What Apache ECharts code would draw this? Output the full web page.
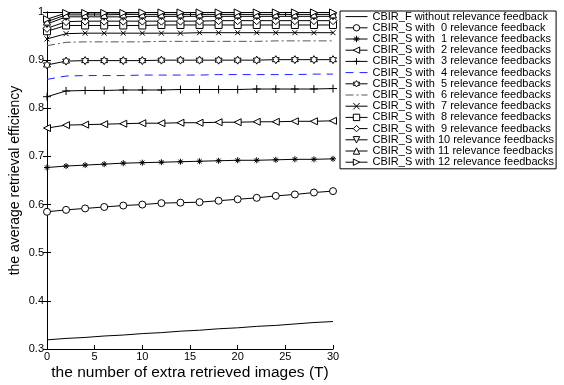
<!DOCTYPE html>
<html>
<head>
<meta charset="utf-8">
<script src="https://cdn.jsdelivr.net/npm/echarts@6/dist/echarts.min.js"></script>
<style>html,body{margin:0;padding:0;background:#fff}#c{width:564px;height:385px}</style>
</head>
<body>
<div id="c"></div>
<script>
const xValues = [0,2,4,6,8,10,12,14,16,18,20,22,24,26,28,30];
const xTicks = [0,5,10,15,20,25,30];
const yTicks = [0.3,0.4,0.5,0.6,0.7,0.8,0.9,1];

const seriesNames = [
  'CBIR_F without relevance feedback',
  'CBIR_S with  0 relevance feedback',
  'CBIR_S with  1 relevance feedbacks',
  'CBIR_S with  2 relevance feedbacks',
  'CBIR_S with  3 relevance feedbacks',
  'CBIR_S with  4 relevance feedbacks',
  'CBIR_S with  5 relevance feedbacks',
  'CBIR_S with  6 relevance feedbacks',
  'CBIR_S with  7 relevance feedbacks',
  'CBIR_S with  8 relevance feedbacks',
  'CBIR_S with  9 relevance feedbacks',
  'CBIR_S with 10 relevance feedbacks',
  'CBIR_S with 11 relevance feedbacks',
  'CBIR_S with 12 relevance feedbacks'
];

const cbirF = [0.319,0.322,0.324,0.327,0.329,0.332,0.334,0.337,0.339,0.342,0.344,0.347,0.349,0.352,0.355,0.357];
const fb0  = [0.585,0.589,0.592,0.595,0.598,0.600,0.603,0.604,0.605,0.608,0.611,0.614,0.618,0.621,0.625,0.628];
const fb1  = [0.677,0.680,0.682,0.684,0.686,0.687,0.688,0.689,0.690,0.691,0.692,0.692,0.693,0.694,0.694,0.695];
const fb2  = [0.759,0.765,0.766,0.767,0.768,0.769,0.769,0.770,0.770,0.771,0.771,0.772,0.772,0.773,0.773,0.774];
const fb3  = [0.824,0.836,0.837,0.837,0.838,0.838,0.838,0.839,0.839,0.839,0.839,0.840,0.840,0.840,0.840,0.841];
const fb4  = [0.860,0.867,0.868,0.868,0.868,0.869,0.869,0.869,0.869,0.870,0.870,0.870,0.870,0.870,0.871,0.871];
const fb5  = [0.890,0.898,0.899,0.899,0.899,0.899,0.900,0.900,0.900,0.900,0.900,0.900,0.901,0.901,0.901,0.901];
const fb6  = [0.930,0.937,0.938,0.938,0.938,0.938,0.939,0.939,0.939,0.939,0.939,0.939,0.940,0.940,0.940,0.940];
const fb7  = [0.944,0.955,0.956,0.956,0.956,0.956,0.956,0.956,0.957,0.957,0.957,0.957,0.957,0.957,0.957,0.957];
const fb8  = [0.960,0.972,0.972,0.972,0.972,0.972,0.973,0.973,0.973,0.973,0.973,0.973,0.973,0.973,0.973,0.973];
const fb9  = [0.966,0.980,0.981,0.981,0.981,0.981,0.981,0.981,0.981,0.982,0.982,0.982,0.982,0.982,0.982,0.982];
const fb10 = [0.975,0.990,0.990,0.990,0.990,0.991,0.991,0.991,0.991,0.991,0.991,0.991,0.991,0.991,0.991,0.991];
const fb11 = [0.980,0.994,0.994,0.994,0.995,0.995,0.995,0.995,0.995,0.995,0.995,0.995,0.995,0.995,0.995,0.995];
const fb12 = [0.985,0.998,0.998,0.998,0.998,0.999,0.999,0.999,0.999,0.999,0.999,0.999,0.999,0.999,0.999,0.999];

const allValues = [cbirF,fb0,fb1,fb2,fb3,fb4,fb5,fb6,fb7,fb8,fb9,fb10,fb11,fb12];

const hexagram = 'path://M5 0L6.443 2.5L9.33 2.5L7.887 5L9.33 7.5L6.443 7.5L5 10L3.557 7.5L0.67 7.5L2.113 5L0.67 2.5L3.557 2.5Z';
const symbols = [
  'none',
  'circle',
  'path://M5 0L5 10M0 5L10 5M1.5 1.5L8.5 8.5M8.5 1.5L1.5 8.5',
  'path://M0 5L10 0L10 10Z',
  'path://M5 0L5 10M0 5L10 5',
  'none',
  hexagram,
  'none',
  'path://M0 0L10 10M10 0L0 10',
  'rect',
  'diamond',
  'path://M0 0L10 0L5 10Z',
  'path://M5 0L10 10L0 10Z',
  'path://M10 5L0 0L0 10Z'
];
const sizes = [0,7,6,7,8,0,8,0,5,7,8,7,7,7];
const lineColors = ['#000','#000','#000','#000','#000','#2020ff','#000','#555','#000','#000','#000','#000','#000','#000'];
const lineTypes = ['solid','solid','solid','solid','solid',[8,6],'solid',[8,3,2,3],'solid','solid','solid','solid','solid','solid'];

const font = 'Liberation Sans, Arial, sans-serif';

const series = allValues.map((vals, i) => ({
  name: seriesNames[i],
  type: 'line',
  data: xValues.map((x, j) => [x, vals[j]]),
  symbol: symbols[i],
  symbolSize: sizes[i],
  showSymbol: symbols[i] !== 'none',
  symbolKeepAspect: true,
  color: lineColors[i],
  lineStyle: {color: lineColors[i], width: 1, type: lineTypes[i]},
  itemStyle: symbols[i] === 'none'
    ? {color: 'rgba(0,0,0,0)', borderColor: 'rgba(0,0,0,0)', borderWidth: 0}
    : {color: '#fff', borderColor: '#000', borderWidth: 1},
  emphasis: {disabled: true},
  animation: false,
  z: 2 + i
}));

const chart = echarts.init(document.getElementById('c'), null, {renderer: 'canvas'});
chart.setOption({
  animation: false,
  backgroundColor: '#fff',
  grid: {left: 47, right: 231, top: 12, bottom: 36, containLabel: false, outerBoundsMode: 'none'},
  legend: {
    orient: 'vertical',
    left: 340,
    top: 11,
    padding: [0, 2, 1, 5],
    itemWidth: 22,
    itemHeight: 8,
    itemGap: 0,
    borderColor: '#000',
    borderWidth: 1,
    backgroundColor: '#fff',
    lineStyle: {width: 1},
    itemStyle: {borderWidth: 1},
    textStyle: {fontFamily: font, fontSize: 11, lineHeight: 11.2, color: '#000'},
    data: seriesNames,
    selectedMode: false
  },
  xAxis: [{
    type: 'value', min: 0, max: 30, interval: 5,
    name: 'the number of extra retrieved images (T)',
    nameLocation: 'middle', nameGap: 16, nameMoveOverlap: false,
    nameTextStyle: {fontFamily: font, fontSize: 15.5, color: '#000'},
    axisLine: {lineStyle: {color: '#000', width: 1}},
    axisTick: {inside: true, length: 4, lineStyle: {color: '#000'}},
    axisLabel: {fontFamily: font, fontSize: 11, color: '#000', margin: 2,
      formatter: v => xTicks.includes(v) ? String(v) : ''},
    splitLine: {show: false}
  }, {
    type: 'value', min: 0, max: 30, interval: 5, position: 'top',
    axisLine: {show: true, lineStyle: {color: '#000', width: 1}},
    axisTick: {inside: true, length: 4, lineStyle: {color: '#000'}},
    axisLabel: {show: false}, splitLine: {show: false}
  }],
  yAxis: [{
    type: 'value', min: 0.3, max: 1, interval: 0.1,
    name: 'the average retrieval efficiency',
    nameLocation: 'middle', nameGap: 25, nameMoveOverlap: false,
    nameTextStyle: {fontFamily: font, fontSize: 14, color: '#000'},
    axisLine: {show: true, lineStyle: {color: '#000', width: 1}},
    axisTick: {show: true, inside: true, length: 4, lineStyle: {color: '#000'}},
    axisLabel: {fontFamily: font, fontSize: 11, color: '#000', margin: 3,
      formatter: v => {
        const t = yTicks.find(k => Math.abs(k - v) < 1e-6);
        return t === undefined ? '' : String(t);
      }},
    splitLine: {show: false}
  }, {
    type: 'value', min: 0.3, max: 1, interval: 0.1, position: 'right',
    axisLine: {show: true, lineStyle: {color: '#000', width: 1}},
    axisTick: {show: true, inside: true, length: 4, lineStyle: {color: '#000'}},
    axisLabel: {show: false}, splitLine: {show: false}
  }],
  series: series
});
</script>
</body>
</html>
